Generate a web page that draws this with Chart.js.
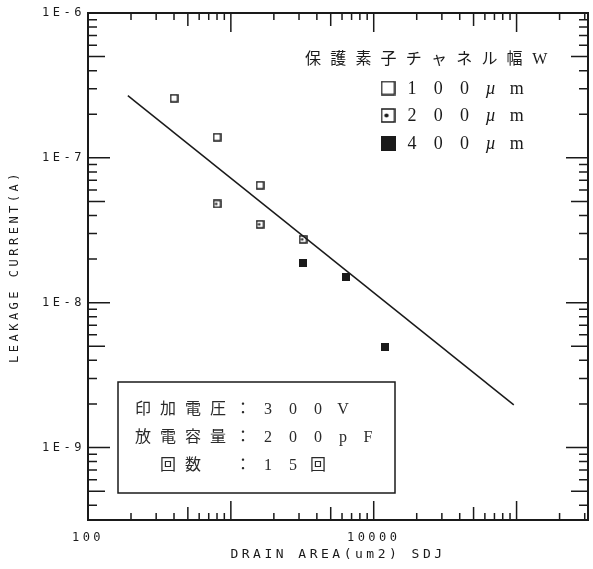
<!DOCTYPE html>
<html>
<head>
<meta charset="utf-8">
<script src="https://cdn.jsdelivr.net/npm/chart.js@4/dist/chart.umd.min.js"></script>
<style>
  html, body { margin: 0; background: #fff; }
</style>
</head>
<body>
<canvas id="chart" width="593" height="569"></canvas>
<script>
// values (log-log)
const w100x = [400, 800, 1600];
const w100y = [2.58e-7, 1.39e-7, 6.47e-8];
const w200x = [800, 1600, 3200];
const w200y = [4.81e-8, 3.48e-8, 2.74e-8];
const w400x = [3200, 6400, 12000];
const w400y = [1.87e-8, 1.51e-8, 4.98e-9];
const fitX = [190, 95600];
const fitY = [2.69e-7, 1.97e-9];

const seriesLabels = ['100µm', '200µm', '400µm'];
const legendTitle = '保護素子チャネル幅W';
const noteLines = ['印加電圧：300V', '放電容量：200pF', ' 回数 ：15回'];

const xTickValues = [100, 10000];
const xTickLabels = ['100', '10000'];
const yTickValues = [1e-6, 1e-7, 1e-8, 1e-9];
const yTickLabels = ['1E-6', '1E-7', '1E-8', '1E-9'];

const xMin = 100, xMax = Math.pow(10, 5.5);
const yMin = Math.pow(10, -9.5), yMax = 1e-6;

const INK = '#1a1a1a';
const zip = (xs, ys) => xs.map((x, i) => ({ x: x, y: ys[i] }));

// square markers: open, open with dot, filled
function marker(kind, size) {
  const c = document.createElement('canvas');
  c.width = c.height = size;
  const g = c.getContext('2d');
  g.strokeStyle = INK;
  g.fillStyle = INK;
  g.lineWidth = 1.5;
  if (kind === 'filled') {
    g.fillRect(0, 0, size, size);
  } else {
    g.strokeRect(1, 1, size - 2, size - 2);
    if (kind === 'dot') {
      g.beginPath();
      g.arc(size * 0.4, size / 2, size * 0.14, 0, Math.PI * 2);
      g.fill();
    }
  }
  return c;
}
const kinds = ['open', 'dot', 'filled'];
const pointMarkers = [marker('open', 9), marker('dot', 9), marker('filled', 8)];
const legendMarkers = kinds.map(k => marker(k, 15));

// every m * 10^e between min and max
function logSteps(min, max) {
  const out = [];
  for (let e = Math.floor(Math.log10(min)); e <= Math.ceil(Math.log10(max)); e++) {
    for (let m = 1; m <= 9; m++) {
      const v = m * Math.pow(10, e);
      if (v >= min * 0.999 && v <= max * 1.001) out.push({ v: v, m: m });
    }
  }
  return out;
}

function spaced(ctx, text, x0, y, step, font) {
  Array.from(text).forEach((ch, i) => {
    if (ch === ' ') return;
    ctx.font = ch === 'µ' ? 'italic ' + font : font;
    ctx.fillText(ch, x0 + i * step, y);
  });
}

const SERIF = "'Liberation Serif', 'Noto Sans CJK JP'";

const framePlugin = {
  id: 'frame',
  beforeDraw(chart) {
    const ctx = chart.ctx;
    ctx.save();
    ctx.fillStyle = '#fff';
    ctx.fillRect(0, 0, chart.width, chart.height);
    ctx.restore();
    ctx.letterSpacing = '3.5px';
  },
  beforeDatasetsDraw(chart) {
    const { ctx, chartArea: a, scales } = chart;
    ctx.save();
    ctx.strokeStyle = INK;
    ctx.lineWidth = 1.5;
    ctx.beginPath();
    logSteps(xMin, xMax).forEach(t => {
      const px = scales.x.getPixelForValue(t.v);
      const len = t.m === 1 ? 19 : (t.m === 5 ? 13 : 7);
      ctx.moveTo(px, a.bottom); ctx.lineTo(px, a.bottom - len);
      ctx.moveTo(px, a.top); ctx.lineTo(px, a.top + len);
    });
    logSteps(yMin, yMax).forEach(t => {
      const py = scales.y.getPixelForValue(t.v);
      const len = t.m === 1 ? 22 : (t.m === 5 ? 17 : 9);
      ctx.moveTo(a.left, py); ctx.lineTo(a.left + len, py);
      ctx.moveTo(a.right, py); ctx.lineTo(a.right - len, py);
    });
    ctx.stroke();
    ctx.lineWidth = 2;
    ctx.strokeRect(a.left, a.top, a.right - a.left, a.bottom - a.top);
    ctx.restore();
  },
  afterDraw(chart) {
    const ctx = chart.ctx;
    ctx.save();
    ctx.letterSpacing = '0px';
    ctx.fillStyle = INK;
    ctx.textAlign = 'center';
    ctx.textBaseline = 'middle';

    // legend
    spaced(ctx, legendTitle, 313, 60, 25.2, '16px ' + SERIF);
    seriesLabels.forEach((lab, i) => {
      const y = 88 + i * 27.5;
      const m = legendMarkers[i];
      ctx.drawImage(m, 388 - m.width / 2, y - m.height / 2);
      spaced(ctx, lab, 412, y + 1, 26.2, '18px ' + SERIF);
    });

    // condition box
    ctx.lineWidth = 1.5;
    ctx.strokeStyle = INK;
    ctx.strokeRect(118, 382, 277, 111);
    ctx.fillStyle = '#2a2a2a';
    noteLines.forEach((line, i) => {
      spaced(ctx, line, 143, 410 + i * 28, 25, '16px ' + SERIF);
    });
    ctx.restore();
  }
};

new Chart(document.getElementById('chart'), {
  type: 'scatter',
  data: {
    datasets: [
      { label: seriesLabels[0], data: zip(w100x, w100y), pointStyle: pointMarkers[0] },
      { label: seriesLabels[1], data: zip(w200x, w200y), pointStyle: pointMarkers[1] },
      { label: seriesLabels[2], data: zip(w400x, w400y), pointStyle: pointMarkers[2] },
      {
        label: 'fit', data: zip(fitX, fitY), showLine: true,
        pointRadius: 0, borderColor: INK, borderWidth: 1.5
      }
    ]
  },
  options: {
    responsive: false,
    animation: false,
    events: [],
    devicePixelRatio: 1,
    layout: { padding: { top: 13, right: 5, left: 0, bottom: 0 } },
    plugins: { legend: { display: false }, tooltip: { enabled: false } },
    scales: {
      x: {
        type: 'logarithmic',
        min: xMin, max: xMax,
        afterFit: s => { s.height = 49; },
        afterBuildTicks: s => { s.ticks = xTickValues.map(v => ({ value: v })); },
        grid: { display: false, drawTicks: false },
        border: { display: false },
        ticks: {
          autoSkip: false, maxRotation: 0, padding: 11,
          color: INK, font: { family: 'DejaVu Sans Mono', size: 12 },
          callback: (v, i) => xTickLabels[i]
        },
        title: {
          display: true, text: 'DRAIN AREA(um2) SDJ', color: INK,
          font: { family: 'DejaVu Sans Mono', size: 13 },
          padding: { top: 0, bottom: 7 }
        }
      },
      y: {
        type: 'logarithmic',
        min: yMin, max: yMax,
        afterFit: s => { s.width = 88; },
        afterBuildTicks: s => { s.ticks = yTickValues.map(v => ({ value: v })); },
        grid: { display: false, drawTicks: false },
        border: { display: false },
        ticks: {
          autoSkip: false, padding: 3,
          color: INK, font: { family: 'DejaVu Sans Mono', size: 12 },
          callback: (v, i) => yTickLabels[i]
        },
        title: {
          display: true, text: 'LEAKAGE CURRENT(A)', color: INK,
          font: { family: 'DejaVu Sans Mono', size: 12 },
          padding: { top: 8, bottom: 0 }
        }
      }
    }
  },
  plugins: [framePlugin]
});
</script>
</body>
</html>
